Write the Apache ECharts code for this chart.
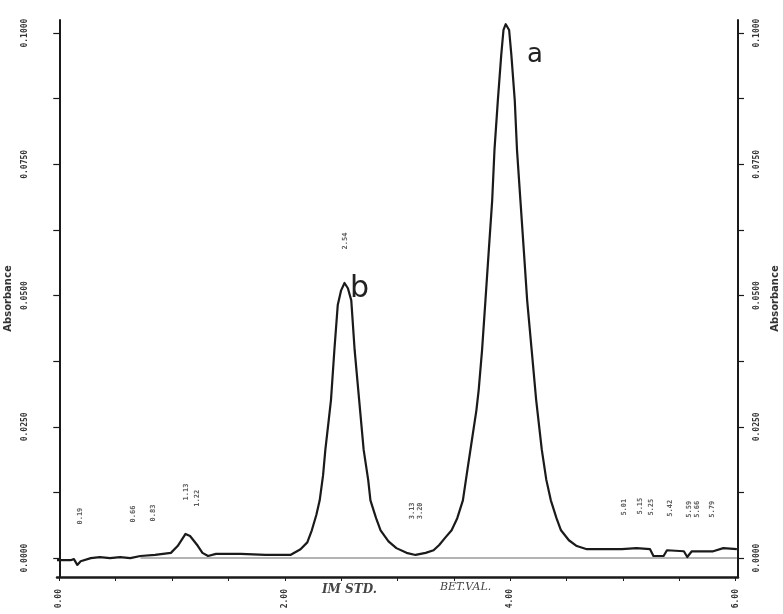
<!DOCTYPE html>
<html>
<head>
<meta charset="utf-8">
<script src="https://cdn.jsdelivr.net/npm/echarts@6/dist/echarts.min.js"></script>
<style>html,body{margin:0;padding:0;background:#fff}#c{width:783px;height:614px}</style>
</head>
<body>
<div id="c"></div>
<script>
// Chromatogram trace (retention time, min) and absorbance (AU)
const times = [-0.02,0.10,0.13,0.16,0.19,0.28,0.36,0.45,0.54,0.63,0.72,0.85,0.99,1.05,1.09,1.12,1.16,1.19,1.23,1.27,1.32,1.39,1.61,1.83,2.05,2.14,2.20,2.24,2.28,2.31,2.34,2.36,2.39,2.41,2.44,2.47,2.50,2.53,2.56,2.59,2.62,2.66,2.70,2.74,2.76,2.81,2.85,2.92,2.99,3.08,3.16,3.25,3.32,3.37,3.42,3.48,3.53,3.58,3.62,3.66,3.70,3.72,3.75,3.78,3.81,3.84,3.86,3.89,3.92,3.94,3.96,3.99,4.01,4.04,4.06,4.09,4.12,4.15,4.19,4.23,4.28,4.32,4.36,4.41,4.45,4.52,4.59,4.68,4.81,4.99,5.12,5.24,5.27,5.36,5.39,5.54,5.57,5.61,5.80,5.89,6.01];
const absorbance = [-0.0004,-0.0004,-0.0002,-0.0013,-0.0006,0.0000,0.0002,0.0000,0.0002,0.0000,0.0004,0.0006,0.0010,0.0023,0.0036,0.0046,0.0042,0.0034,0.0023,0.0010,0.0004,0.0008,0.0008,0.0006,0.0006,0.0017,0.0030,0.0053,0.0082,0.0110,0.0158,0.0206,0.0263,0.0301,0.0396,0.0482,0.0510,0.0524,0.0514,0.0491,0.0396,0.0301,0.0206,0.0149,0.0110,0.0076,0.0053,0.0032,0.0019,0.0010,0.0006,0.0010,0.0015,0.0025,0.0038,0.0053,0.0076,0.0110,0.0168,0.0225,0.0282,0.0320,0.0396,0.0491,0.0587,0.0682,0.0777,0.0872,0.0958,0.1006,0.1017,0.1006,0.0958,0.0872,0.0777,0.0682,0.0587,0.0491,0.0396,0.0301,0.0206,0.0149,0.0110,0.0076,0.0053,0.0034,0.0023,0.0017,0.0017,0.0017,0.0019,0.0017,0.0004,0.0004,0.0015,0.0013,0.0002,0.0013,0.0013,0.0019,0.0017];
// drawn baseline
const baselineTimes = [0.72, 6.01];
const baselineValues = [0.0000, 0.0000];
// retention-time annotations
const rtTimes = [0.19,0.66,0.83,1.13,1.22,2.54,3.13,3.20,5.01,5.15,5.25,5.42,5.59,5.66,5.79];
// axis tick labels
const xTickLabels = [0, 2, 4, 6];
const xMinorTicks = [0,0.5,1,1.5,2,2.5,3,3.5,4,4.5,5,5.5,6];
const yTickLabels = [0, 0.025, 0.05, 0.075, 0.1];
const yMinorTicks = [0,0.0125,0.025,0.0375,0.05,0.0625,0.075,0.0875,0.1];
// handwritten notes
const notes = ['a', 'b', 'IM STD.', 'BET.VAL.'];

const trace = times.map((t, i) => [t, absorbance[i]]);
const baseline = baselineTimes.map((t, i) => [t, baselineValues[i]]);
function nearestValue(t) {
  let best = 0;
  for (let i = 0; i < times.length; i++) {
    if (Math.abs(times[i] - t) < 0.06 && absorbance[i] > best) best = absorbance[i];
  }
  return best;
}
const rtData = rtTimes.map(t => ({ value: [t, nearestValue(t)], name: t.toFixed(2) }));

const ink = '#1a1a1a';
const labelFont = { fontFamily: 'DejaVu Sans Mono', fontSize: 8, color: '#333', fontWeight: 'bold' };
function yAxisCfg(pos) {
  return {
    type: 'value', position: pos, min: -0.0036, max: 0.1025,
    name: 'Absorbance', nameLocation: 'middle', nameRotate: 90,
    nameGap: pos === 'left' ? 41 : 32,
    nameTextStyle: { fontFamily: 'DejaVu Sans', fontSize: 10, color: '#333', fontWeight: 'bold' },
    axisLine: { show: true, lineStyle: { color: ink, width: 2 } },
    axisTick: { show: true, customValues: yMinorTicks, length: 6, lineStyle: { color: ink, width: 1.2 } },
    axisLabel: Object.assign({ customValues: yTickLabels, rotate: 90, margin: pos === 'left' ? 28 : 15,
      formatter: v => v.toFixed(4) }, labelFont),
    splitLine: { show: false }
  };
}
const chart = echarts.init(document.getElementById('c'));
chart.setOption({
  animation: false,
  backgroundColor: '#fff',
  grid: { left: 57, right: 45, top: 20, bottom: 37, containLabel: false, outerBoundsMode: 'none' },
  xAxis: {
    type: 'value', min: -0.02, max: 6.02,
    axisLine: { onZero: false, lineStyle: { color: ink, width: 2.5 } },
    axisTick: { show: true, customValues: xMinorTicks, length: 4, lineStyle: { color: ink } },
    axisLabel: Object.assign({ customValues: xTickLabels, rotate: 90, margin: 12, formatter: v => v.toFixed(2) }, labelFont),
    splitLine: { show: false }
  },
  yAxis: [yAxisCfg('left'), yAxisCfg('right')],
  series: [
    { type: 'line', data: baseline, showSymbol: false, lineStyle: { color: '#9a9a9a', width: 1.5 }, z: 1 },
    { type: 'line', data: trace, showSymbol: false, smooth: false, lineStyle: { color: ink, width: 2.2, join: 'round' }, z: 2 },
    { type: 'scatter', data: rtData, symbolSize: 0, z: 3,
      label: Object.assign({ show: true, position: 'inside', rotate: 90, offset: [42, 0], formatter: p => p.name }, labelFont, { fontSize: 7 }) }
  ],
  graphic: [
    { type: 'text', left: 527, top: 42, style: { text: notes[0], font: '26px "DejaVu Sans"', fill: '#222' } },
    { type: 'text', left: 350, top: 274, style: { text: notes[1], font: '30px "DejaVu Sans"', fill: '#222' } },
    { type: 'text', left: 322, top: 584, style: { text: notes[2], font: 'italic bold 12px "DejaVu Serif"', fill: '#444' } },
    { type: 'text', left: 440, top: 582, style: { text: notes[3], font: 'italic 11px "DejaVu Serif"', fill: '#444' } }
  ]
});
</script>
</body>
</html>
